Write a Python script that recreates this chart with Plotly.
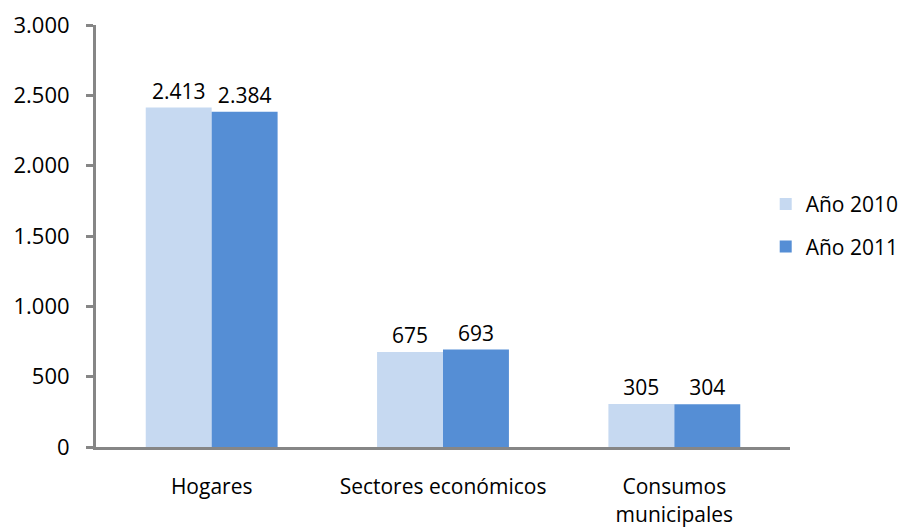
import plotly.graph_objects as go

categories = ["Hogares", "Sectores económicos", "Consumos<br>municipales"]
series_names = ["Año 2010", "Año 2011"]
values_2010 = [2413, 675, 305]
values_2011 = [2384, 693, 304]
y_ticks = [0, 500, 1000, 1500, 2000, 2500, 3000]

colors = ["#C6D9F1", "#558ED5"]
font_family = "Open Sans, Liberation Sans, sans-serif"
fs = 22

fig = go.Figure()
for name, vals, col in zip(series_names, [values_2010, values_2011], colors):
    fig.add_trace(go.Bar(
        x=categories, y=vals, name=name,
        marker=dict(color=col, line=dict(width=0)),
        texttemplate="%{y:,d}", textposition="outside",
        textfont=dict(size=21, color="#000000", family=font_family),
        cliponaxis=False, legendgroup=name,
    ))

fig.update_layout(
    width=898, height=521,
    margin=dict(l=88, r=116, t=17, b=82, autoexpand=False),
    paper_bgcolor="white", plot_bgcolor="white",
    separators=",.",
    barmode="group", bargap=0.43, bargroupgap=0,
    font=dict(family=font_family, size=fs, color="#000000"),
    legend=dict(x=0.965, y=0.525, xanchor="left", yanchor="middle",
                font=dict(size=21), tracegroupgap=12, itemwidth=30,
                bgcolor="rgba(0,0,0,0)"),
    showlegend=True,
)
fig.update_xaxes(showline=True, linecolor="#868686", linewidth=3, automargin=False,
                 ticks="", showgrid=False, ticklabelstandoff=19,
                 tickfont=dict(size=21))
fig.update_yaxes(range=[0, 3000], tickvals=y_ticks, tickformat=",d", automargin=False,
                 showline=True, linecolor="#868686", linewidth=3,
                 ticks="outside", ticklen=7, tickcolor="#868686", tickwidth=3,
                 showgrid=False, zeroline=False, ticklabelstandoff=12,
                 tickfont=dict(size=fs))

fig.write_html("out.html")
